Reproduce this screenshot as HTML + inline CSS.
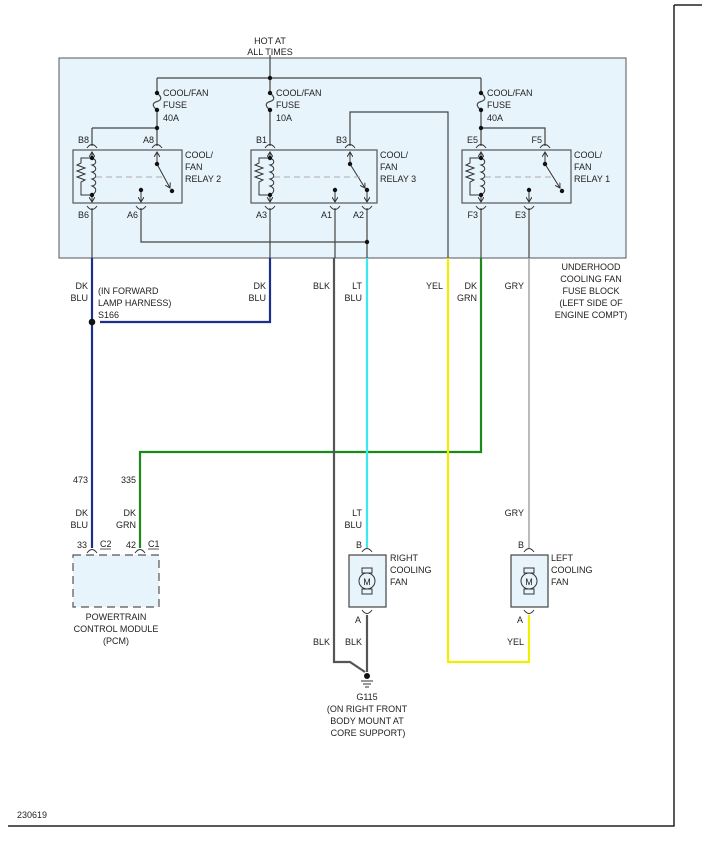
<!DOCTYPE html>
<html><head><meta charset="utf-8"><style>
html,body{margin:0;padding:0;background:#fff}
svg{display:block}
text{font-family:"Liberation Sans",sans-serif;font-size:9px;fill:#222}
</style></head><body>
<svg width="702" height="850" viewBox="0 0 702 850" xmlns="http://www.w3.org/2000/svg">
<defs>
<marker id="ar" markerWidth="6" markerHeight="6" refX="5" refY="3" orient="auto" markerUnits="userSpaceOnUse"><path d="M0,0 L5,3 L0,6" fill="none" stroke="#333" stroke-width="1"/></marker>
</defs>
<path d="M674,5 H702 M674,5 V826 H8" stroke="#222" stroke-width="1.5" fill="none"/>
<rect x="59" y="58" width="567" height="200" fill="#e8f4fc" stroke="#555" stroke-width="1"/>
<g stroke="#444" stroke-width="1.2" fill="none">
<path d="M270,55 V78 M157,78 H481 M157,78 V93 M270,78 V93 M481,78 V93"/>
<path d="M157,93 C162,97 162,100 157,101.5 C152,103 152,106 157,110 M270,93 C275,97 275,100 270,101.5 C265,103 265,106 270,110 M481,93 C486,97 486,100 481,101.5 C476,103 476,106 481,110"/>
<path d="M157,110 V146 M92,128 H157 M92,128 V146 M270,110 V146 M481,110 V146 M481,128 H545 V146"/>
<path d="M350,146 V112 H448 V258"/>
<path d="M92,208 V258 M141,208 V242 H367 M270,208 V258 M335,208 V258 M367,208 V258 M481,208 V258 M529,208 V258"/>
</g>
<g fill="#111">
<circle cx="270" cy="78" r="2.2"/><circle cx="157" cy="93" r="2.2"/><circle cx="157" cy="110" r="2.2"/><circle cx="270" cy="93" r="2.2"/><circle cx="270" cy="110" r="2.2"/><circle cx="481" cy="93" r="2.2"/><circle cx="481" cy="110" r="2.2"/><circle cx="157" cy="128" r="2.2"/><circle cx="481" cy="128" r="2.2"/><circle cx="367" cy="242" r="2.2"/>
</g>
<g fill="#e8f4fc" stroke="#555" stroke-width="1.2">
<rect x="73" y="150" width="109" height="53"/>
<rect x="251" y="150" width="126" height="53"/>
<rect x="462" y="150" width="109" height="53"/>
</g>
<g stroke="#333" stroke-width="1" fill="none">
<path d="M87,148 Q92,141 97,148 M152,148 Q157,141 162,148 M265,148 Q270,141 275,148 M345,148 Q350,141 355,148 M476,148 Q481,141 486,148 M540,148 Q545,141 550,148"/>
<path d="M87,206 Q92,213 97,206 M136,206 Q141,213 146,206 M265,206 Q270,213 275,206 M330,206 Q335,213 340,206 M362,206 Q367,213 372,206 M476,206 Q481,213 486,206 M524,206 Q529,213 534,206"/>
<g marker-end="url(#ar)">
<path d="M92,158 V152"/><path d="M92,195 V202"/>
<path d="M270,158 V152"/><path d="M270,195 V202"/>
<path d="M481,158 V152"/><path d="M481,195 V202"/>
<path d="M157,164 V152"/><path d="M350,164 V152"/><path d="M545,164 V152"/>
<path d="M157,164 L170,188"/><path d="M350,164 L365,188"/><path d="M545,164 L560,188"/>
<path d="M141,190 V202"/><path d="M335,190 V202"/><path d="M367,190 V202"/><path d="M529,190 V202"/>
<path d="M367,566 V558"/><path d="M367,596 V604"/><path d="M529,566 V558"/><path d="M529,596 V604"/>
</g>
<path d="M92,158 c5,2 5,6 0,7 c5,2 5,6 0,7 c5,2 5,6 0,7 c5,2 5,6 0,7 c5,2 5,6 0,9 M92,158 H81 V163 l-4,2 l8,3 l-8,3 l8,3 l-8,3 l8,3 l-4,2 V195 H92"/>
<path d="M270,158 c5,2 5,6 0,7 c5,2 5,6 0,7 c5,2 5,6 0,7 c5,2 5,6 0,7 c5,2 5,6 0,9 M270,158 H259 V163 l-4,2 l8,3 l-8,3 l8,3 l-8,3 l8,3 l-4,2 V195 H270"/>
<path d="M481,158 c5,2 5,6 0,7 c5,2 5,6 0,7 c5,2 5,6 0,7 c5,2 5,6 0,7 c5,2 5,6 0,9 M481,158 H470 V163 l-4,2 l8,3 l-8,3 l8,3 l-8,3 l8,3 l-4,2 V195 H481"/>
</g>
<g stroke="#aaa" stroke-width="1" stroke-dasharray="6,4">
<path d="M96,177 H165 M274,177 H360 M485,177 H555"/>
</g>
<g fill="#111">
<circle cx="92" cy="158" r="2.2"/><circle cx="92" cy="195" r="2.2"/><circle cx="270" cy="158" r="2.2"/><circle cx="270" cy="195" r="2.2"/><circle cx="481" cy="158" r="2.2"/><circle cx="481" cy="195" r="2.2"/>
<circle cx="157" cy="164" r="2.2"/><circle cx="172" cy="191" r="2.2"/><circle cx="141" cy="190" r="2.2"/>
<circle cx="350" cy="164" r="2.2"/><circle cx="367" cy="190" r="2.2"/><circle cx="335" cy="190" r="2.2"/>
<circle cx="545" cy="164" r="2.2"/><circle cx="562" cy="191" r="2.2"/><circle cx="529" cy="190" r="2.2"/>
</g>
<g fill="none" stroke-width="2.2">
<path d="M92,258 V548 M100,322 H270 V258" stroke="#1a2f8f"/>
<path d="M481,258 V452 H140 V548" stroke="#1a8a1a"/>
<path d="M367,258 V548" stroke="#3de8f0"/>
<path d="M448,258 V662 H529 V615" stroke="#f2ee00"/>
<path d="M529,258 V548" stroke="#aaa" stroke-width="1.6"/>
<path d="M334,258 V662 H350 L365,672 M367,615 V672" stroke="#555"/>
</g>
<circle cx="92" cy="322" r="3.3" fill="#111"/>
<rect x="73" y="555" width="86" height="52" fill="#e8f4fc" stroke="#555" stroke-width="1.2" stroke-dasharray="8,5"/>
<path d="M87,553 Q92,546 97,553 M135,553 Q140,546 145,553" stroke="#333" fill="none"/>
<path d="M100,549 H111 M148,549 H159" stroke="#222" stroke-width="0.8"/>
<g stroke="#444" stroke-width="1.2">
<rect x="349" y="555" width="37" height="52" fill="#e8f4fc"/>
<rect x="511" y="555" width="37" height="52" fill="#e8f4fc"/>
</g>
<g stroke="#333" stroke-width="1" fill="none">
<path d="M362,552 Q367,545 372,552 M362,610 Q367,617 372,610 M524,552 Q529,545 534,552 M524,610 Q529,617 534,610"/>
<rect x="362" y="568" width="10" height="5" fill="#e8f4fc"/><rect x="362" y="589" width="10" height="5" fill="#e8f4fc"/>
<rect x="524" y="568" width="10" height="5" fill="#e8f4fc"/><rect x="524" y="589" width="10" height="5" fill="#e8f4fc"/>
<circle cx="367" cy="581" r="8" fill="#e8f4fc"/><circle cx="529" cy="581" r="8" fill="#e8f4fc"/>
</g>
<text x="367" y="585" text-anchor="middle" font-size="10">M</text>
<text x="529" y="585" text-anchor="middle" font-size="10">M</text>
<circle cx="367" cy="676" r="3" fill="#111"/>
<path d="M361,681 H373 M363,684 H371 M365,687 H369" stroke="#333"/>
<g text-anchor="middle">
<text x="270" y="44">HOT AT</text><text x="270" y="55">ALL TIMES</text>
<text x="116" y="620">POWERTRAIN</text><text x="116" y="632">CONTROL MODULE</text><text x="116" y="644">(PCM)</text>
<text x="367" y="700">G115</text><text x="367" y="712">(ON RIGHT FRONT</text><text x="367" y="724">BODY MOUNT AT</text><text x="368" y="736">CORE SUPPORT)</text>
<text x="591" y="270">UNDERHOOD</text><text x="591" y="282">COOLING FAN</text><text x="591" y="294">FUSE BLOCK</text><text x="591" y="306">(LEFT SIDE OF</text><text x="591" y="318">ENGINE COMPT)</text>
</g>
<text x="163" y="96">COOL/FAN</text><text x="163" y="108">FUSE</text><text x="163" y="121">40A</text>
<text x="276" y="96">COOL/FAN</text><text x="276" y="108">FUSE</text><text x="276" y="121">10A</text>
<text x="487" y="96">COOL/FAN</text><text x="487" y="108">FUSE</text><text x="487" y="121">40A</text>
<text x="185" y="158">COOL/</text><text x="185" y="170">FAN</text><text x="185" y="182">RELAY 2</text>
<text x="380" y="158">COOL/</text><text x="380" y="170">FAN</text><text x="380" y="182">RELAY 3</text>
<text x="574" y="158">COOL/</text><text x="574" y="170">FAN</text><text x="574" y="182">RELAY 1</text>
<g text-anchor="end">
<text x="89" y="143">B8</text><text x="154" y="143">A8</text><text x="267" y="143">B1</text><text x="347" y="143">B3</text><text x="478" y="143">E5</text><text x="542" y="143">F5</text>
<text x="89" y="218">B6</text><text x="138" y="218">A6</text><text x="267" y="218">A3</text><text x="332" y="218">A1</text><text x="364" y="218">A2</text><text x="478" y="218">F3</text><text x="526" y="218">E3</text>
<text x="88" y="289">DK</text><text x="88" y="301">BLU</text>
<text x="266" y="289">DK</text><text x="266" y="301">BLU</text>
<text x="330" y="289">BLK</text>
<text x="362" y="289">LT</text><text x="362" y="301">BLU</text>
<text x="443" y="289">YEL</text>
<text x="477" y="289">DK</text><text x="477" y="301">GRN</text>
<text x="524" y="289">GRY</text>
<text x="88" y="483">473</text><text x="136" y="483">335</text>
<text x="88" y="516">DK</text><text x="88" y="528">BLU</text>
<text x="136" y="516">DK</text><text x="136" y="528">GRN</text>
<text x="87" y="548">33</text><text x="136" y="548">42</text>
<text x="362" y="516">LT</text><text x="362" y="528">BLU</text>
<text x="524" y="516">GRY</text>
<text x="362" y="548">B</text><text x="524" y="548">B</text>
<text x="361" y="623">A</text><text x="523" y="623">A</text>
<text x="330" y="645">BLK</text><text x="362" y="645">BLK</text><text x="524" y="645">YEL</text>
</g>
<text x="100" y="547">C2</text><text x="148" y="547">C1</text>
<text x="98" y="294">(IN FORWARD</text><text x="98" y="306">LAMP HARNESS)</text><text x="98" y="318">S166</text>
<text x="390" y="561">RIGHT</text><text x="390" y="573">COOLING</text><text x="390" y="585">FAN</text>
<text x="551" y="561">LEFT</text><text x="551" y="573">COOLING</text><text x="551" y="585">FAN</text>
<text x="17" y="818">230619</text>
</svg>
</body></html>
